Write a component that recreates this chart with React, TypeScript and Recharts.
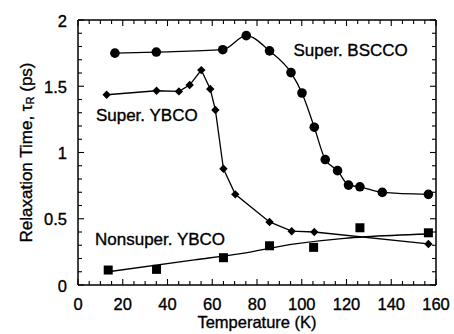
import { Label, Line, LineChart, ReferenceDot, XAxis, YAxis } from "recharts";

// Super. BSCCO (circles)
const bsccoT = [16.5, 35, 64.7, 75.2, 85.6, 95.2, 100.1, 105.6, 110.5, 116, 120.9, 126, 136, 156.6];
const bsccoTau = [1.75, 1.758, 1.776, 1.882, 1.767, 1.603, 1.449, 1.191, 0.947, 0.863, 0.754, 0.741, 0.699, 0.684];

// Super. YBCO (diamonds)
const ybcoT = [12.8, 35.1, 45.1, 49.9, 55.1, 59.1, 61.4, 65, 70.3, 85.6, 95.5, 105.6, 156.6];
const ybcoTau = [1.436, 1.466, 1.461, 1.509, 1.622, 1.479, 1.321, 0.877, 0.684, 0.476, 0.406, 0.4, 0.31];

// Nonsuper. YBCO (squares) and its fitted curve
const nonT = [13.5, 35.1, 65, 85.6, 105.3, 126, 156.6];
const nonTau = [0.113, 0.118, 0.206, 0.296, 0.284, 0.432, 0.394];
const fitT = [13.5, 52, 72, 97, 119, 128.6, 156.6];
const fitTau = [0.1, 0.19, 0.235, 0.31, 0.352, 0.364, 0.385];

const xTicks = [0, 5, 10, 15, 20, 25, 30, 35, 40, 45, 50, 55, 60, 65, 70, 75, 80, 85, 90, 95, 100, 105, 110, 115, 120, 125, 130, 135, 140, 145, 150, 155, 160];
const yTicks = [0, 0.1, 0.2, 0.3, 0.4, 0.5, 0.6, 0.7, 0.8, 0.9, 1, 1.1, 1.2, 1.3, 1.4, 1.5, 1.6, 1.7, 1.8, 1.9, 2];

const notes = [
  { text: "Super. BSCCO", t: 96.3, tau: 1.727 },
  { text: "Super. YBCO", t: 8, tau: 1.239 },
  { text: "Nonsuper. YBCO", t: 7.6, tau: 0.302 },
];

const FONT = "'Liberation Sans', Arial, Helvetica, sans-serif";
const INK = "#000";
// the scanned figure prints a little heavy
const heavy = { stroke: INK, strokeWidth: 0.35 };

const pts = (t: number[], v: number[]) => t.map((x, i) => ({ t: x, tau: v[i] }));

const isMajorX = (v: number) => v % 20 === 0;
const isMajorY = (v: number) => Math.abs(v * 2 - Math.round(v * 2)) < 1e-6;

function BottomTick(props: any) {
  const { x, y, payload } = props;
  const v = payload.value;
  const major = isMajorX(v);
  return (
    <g>
      <line x1={x} x2={x} y1={y} y2={y - (major ? 6 : 4)} stroke={INK} strokeWidth={1.1} />
      {major && (
        <text x={x} y={y + 25} textAnchor="middle" fontSize={16.5} fill={INK} fontFamily={FONT} {...heavy}>
          {v}
        </text>
      )}
    </g>
  );
}

function TopTick(props: any) {
  const { x, y, payload } = props;
  const major = isMajorX(payload.value);
  return <line x1={x} x2={x} y1={y} y2={y + (major ? 6 : 4)} stroke={INK} strokeWidth={1.1} />;
}

function LeftTick(props: any) {
  const { x, y, payload } = props;
  const v = payload.value;
  const major = isMajorY(v);
  return (
    <g>
      <line x1={x} x2={x + (major ? 6 : 4)} y1={y} y2={y} stroke={INK} strokeWidth={1.1} />
      {major && (
        <text x={x - 11} y={y + 6.5} textAnchor="end" fontSize={16.5} fill={INK} fontFamily={FONT} {...heavy}>
          {String(v)}
        </text>
      )}
    </g>
  );
}

function RightTick(props: any) {
  const { x, y, payload } = props;
  const major = isMajorY(payload.value);
  return <line x1={x} x2={x - (major ? 6 : 4)} y1={y} y2={y} stroke={INK} strokeWidth={1.1} />;
}

function Circle(p: any) {
  return <circle key={`c${p.index}`} cx={p.cx} cy={p.cy} r={4.8} fill={INK} />;
}

function Diamond(p: any) {
  const s = 4.2;
  return (
    <path
      key={`d${p.index}`}
      d={`M${p.cx},${p.cy - s}L${p.cx + s},${p.cy}L${p.cx},${p.cy + s}L${p.cx - s},${p.cy}Z`}
      fill={INK}
    />
  );
}

function Square(p: any) {
  const s = 4.5;
  return <rect key={`s${p.index}`} x={p.cx - s} y={p.cy - s} width={2 * s} height={2 * s} fill={INK} />;
}

function YTitle(props: any) {
  const vb = props.viewBox || { x: 18, y: 20, width: 60, height: 265 };
  const cx = vb.x + 8;
  const cy = vb.y + vb.height / 2;
  return (
    <text
      x={cx}
      y={cy}
      transform={`rotate(-90 ${cx} ${cy})`}
      textAnchor="middle"
      dominantBaseline="central"
      fontSize={17}
      fill={INK}
      fontFamily={FONT}
      {...heavy}
    >
      Relaxation Time, τ
      <tspan fontSize={11} dy={4}>R</tspan>
      <tspan dy={-4}> (ps)</tspan>
    </text>
  );
}

function XTitle(props: any) {
  const vb = props.viewBox || { x: 78, y: 285, width: 358, height: 30 };
  return (
    <text x={vb.x + vb.width / 2} y={vb.y + 43} textAnchor="middle" fontSize={16.5} fill={INK} fontFamily={FONT} {...heavy}>
      Temperature (K)
    </text>
  );
}

function NoteLabel(text: string) {
  return (props: any) => {
    const vb = props.viewBox;
    return (
      <text x={vb.x} y={vb.y} fontSize={17} fill={INK} fontFamily={FONT} {...heavy}>
        {text}
      </text>
    );
  };
}

export default function App() {
  return (
    <div style={{ position: "absolute", left: 0, top: 0, width: 454, height: 334, background: "#fff" }}>
      <LineChart width={454} height={334} margin={{ top: 15, right: 10, bottom: 19, left: 18 }}>
        <XAxis
          dataKey="t"
          type="number"
          domain={[0, 160]}
          ticks={xTicks}
          interval={0}
          allowDataOverflow
          height={30}
          tickSize={0}
          tickMargin={0}
          tickLine={false}
          axisLine={{ stroke: INK, strokeWidth: 1.5 }}
          tick={<BottomTick />}
        >
          <Label content={<XTitle />} />
        </XAxis>
        <XAxis
          xAxisId="top"
          orientation="top"
          dataKey="t"
          type="number"
          domain={[0, 160]}
          ticks={xTicks}
          interval={0}
          allowDataOverflow
          height={5}
          tickSize={0}
          tickMargin={0}
          tickLine={false}
          axisLine={{ stroke: INK, strokeWidth: 1.5 }}
          tick={<TopTick />}
        />
        <YAxis
          type="number"
          domain={[0, 2]}
          ticks={yTicks}
          interval={0}
          allowDataOverflow
          width={60}
          tickSize={0}
          tickMargin={0}
          tickLine={false}
          axisLine={{ stroke: INK, strokeWidth: 1.5 }}
          tick={<LeftTick />}
        >
          <Label content={<YTitle />} />
        </YAxis>
        <YAxis
          yAxisId="right"
          orientation="right"
          type="number"
          domain={[0, 2]}
          ticks={yTicks}
          interval={0}
          allowDataOverflow
          width={8}
          tickSize={0}
          tickMargin={0}
          tickLine={false}
          axisLine={{ stroke: INK, strokeWidth: 1.5 }}
          tick={<RightTick />}
        />

        <Line
          data={pts(fitT, fitTau)}
          dataKey="tau"
          type="monotone"
          stroke={INK}
          strokeWidth={1.3}
          dot={false}
          activeDot={false}
          isAnimationActive={false}
        />
        <Line
          data={pts(nonT, nonTau)}
          dataKey="tau"
          stroke="none"
          dot={Square}
          activeDot={false}
          isAnimationActive={false}
        />
        <Line
          data={pts(ybcoT, ybcoTau)}
          dataKey="tau"
          type="linear"
          stroke={INK}
          strokeWidth={1.3}
          dot={Diamond}
          activeDot={false}
          isAnimationActive={false}
        />
        <Line
          data={pts(bsccoT, bsccoTau)}
          dataKey="tau"
          type="monotone"
          stroke={INK}
          strokeWidth={1.3}
          dot={Circle}
          activeDot={false}
          isAnimationActive={false}
        />

        {notes.map((n) => (
          <ReferenceDot key={n.text} x={n.t} y={n.tau} r={0} fill="none" stroke="none" label={NoteLabel(n.text)} />
        ))}
      </LineChart>
    </div>
  );
}
